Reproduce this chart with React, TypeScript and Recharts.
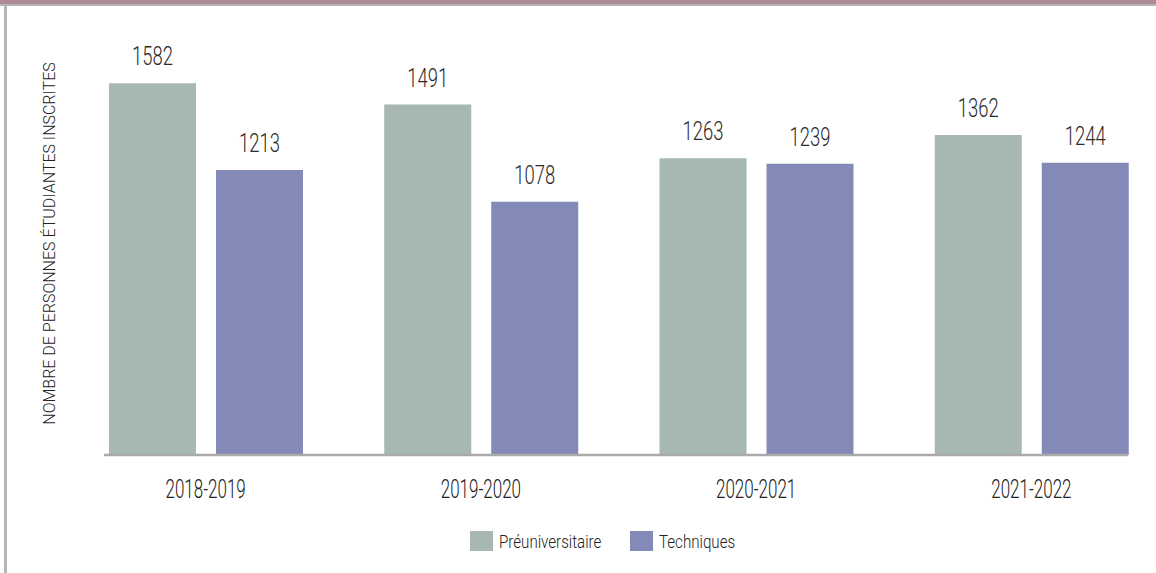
import React from "react";
import {
  BarChart,
  Bar,
  XAxis,
  YAxis,
  LabelList
} from "recharts";

// school years on the x axis
const years = ["2018-2019", "2019-2020", "2020-2021", "2021-2022"];
// enrolments per program type
const preuniversitaire = [1582, 1491, 1263, 1362];
const techniques = [1213, 1078, 1239, 1244];
const seriesNames = ["Préuniversitaire", "Techniques"];
const seriesColors = ["#a7b7b1", "#838ab8"];

const yLabel = "NOMBRE DE PERSONNES ÉTUDIANTES INSCRITES";
const font = "Roboto, 'Liberation Sans', sans-serif";
const squeeze = 0.68; // no condensed face installed, so narrow the glyphs

const data = years.map((year, i) => ({
  year,
  pre: preuniversitaire[i],
  tech: techniques[i]
}));

// category label under the axis
const YearTick = (props: any) => {
  const { x, y, payload } = props;
  return (
    <g transform={`translate(${x},${y})`}>
      <text
        transform={`scale(${squeeze},1)`}
        textAnchor="middle"
        dy={18}
        fontSize={25}
        fontWeight={300}
        fill="#222"
        fontFamily={font}
      >
        {payload.value}
      </text>
    </g>
  );
};

// value printed above each bar
const ValueLabel = (props: any) => {
  const { x, y, width, value } = props;
  return (
    <g transform={`translate(${x + width / 2},${y - 18})`}>
      <text
        transform="scale(0.71,1)"
        textAnchor="middle"
        fontSize={26}
        fontWeight={300}
        fill="#2a2a2a"
        fontFamily={font}
      >
        {value}
      </text>
    </g>
  );
};

export default function App() {
  return (
    <div
      style={{
        position: "absolute",
        left: 0,
        top: 0,
        width: 1156,
        height: 573,
        background: "#fff",
        overflow: "hidden",
        fontFamily: font
      }}
    >
      <div style={{ position: "absolute", left: 0, top: 0, width: 1156, height: 4, background: "#ad8a96" }} />
      <div style={{ position: "absolute", left: 0, top: 4, width: 1156, height: 2, background: "#b4b6b5" }} />
      <div style={{ position: "absolute", left: 4, top: 6, width: 3, height: 567, background: "#b4b6b5" }} />

      <div style={{ position: "absolute", left: 0, top: 0 }}>
        <BarChart
          width={1156}
          height={573}
          data={data}
          margin={{ top: 32, right: 28, bottom: 88, left: 0 }}
          barSize={87}
          barGap={20}
        >
          <XAxis
            dataKey="year"
            height={30}
            padding={{ left: -36, right: -41 }}
            axisLine={{ stroke: "#aaaaaa", strokeWidth: 2.5 }}
            tickLine={false}
            tickSize={0}
            tickMargin={25}
            tick={<YearTick />}
          />
          <YAxis
            width={104}
            domain={[0, 1800]}
            tick={false}
            axisLine={false}
            tickLine={false}
            label={{
              value: yLabel,
              angle: -90,
              position: "center",
              dx: -3,
              style: { fontSize: 16, fontWeight: 300, fill: "#222", fontFamily: font }
            }}
          />
          <Bar dataKey="pre" name={seriesNames[0]} fill={seriesColors[0]} isAnimationActive={false}>
            <LabelList dataKey="pre" content={<ValueLabel />} />
          </Bar>
          <Bar dataKey="tech" name={seriesNames[1]} fill={seriesColors[1]} isAnimationActive={false}>
            <LabelList dataKey="tech" content={<ValueLabel />} />
          </Bar>
        </BarChart>
      </div>

      {/* legend */}
      <div
        style={{
          position: "absolute",
          left: 470,
          top: 531,
          display: "flex",
          alignItems: "center",
          height: 20
        }}
      >
        {seriesNames.map((name, i) => (
          <div key={name} style={{ display: "flex", alignItems: "center", marginRight: 28 }}>
            <span
              style={{
                display: "inline-block",
                width: 23,
                height: 20,
                background: seriesColors[i],
                marginRight: 6
              }}
            />
            <span
              style={{
                fontSize: 18,
                fontWeight: 300,
                color: "#222",
                display: "inline-block",
                transform: "scaleX(0.84)",
                transformOrigin: "left center",
                width: i === 0 ? 103 : 72,
                whiteSpace: "nowrap"
              }}
            >
              {name}
            </span>
          </div>
        ))}
      </div>
    </div>
  );
}
